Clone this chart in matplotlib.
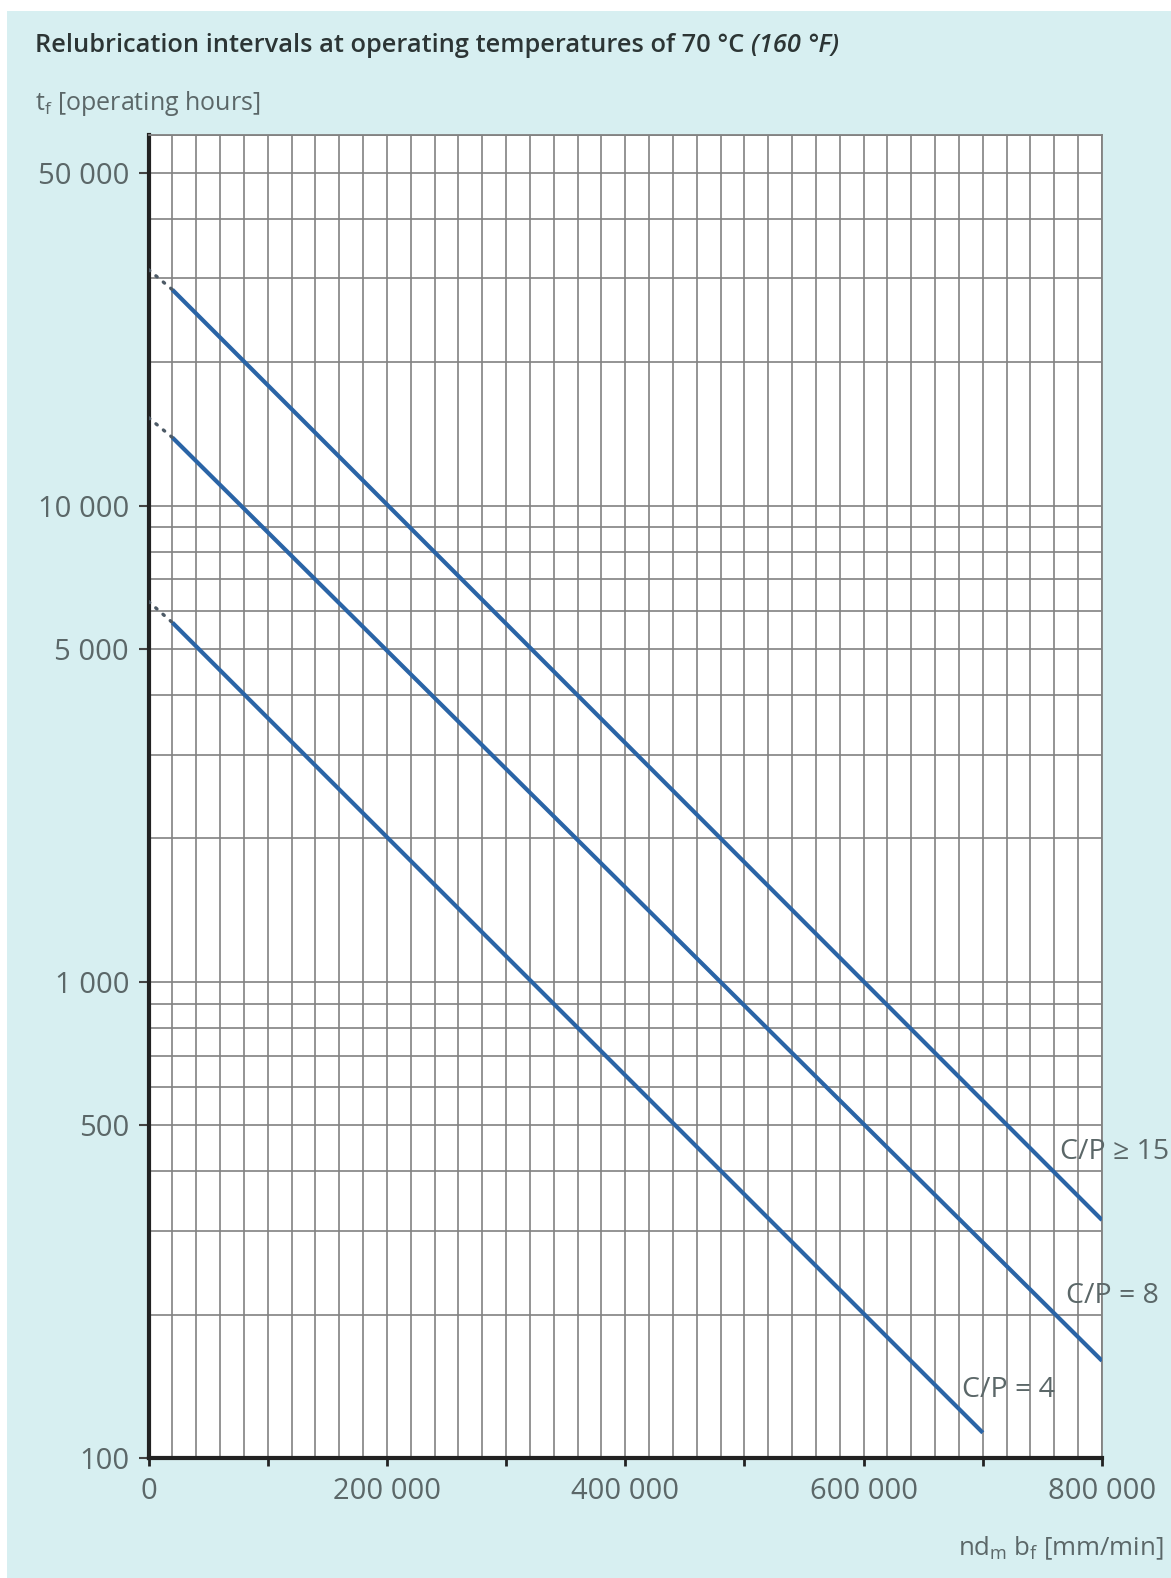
import numpy as np
import matplotlib.pyplot as plt
from matplotlib.patches import Rectangle
from matplotlib.ticker import FixedLocator, MultipleLocator, NullFormatter

# values
x_solid = {'15': [20000, 800000], '8': [20000, 800000], '4': [20000, 700000]}
t_solid = {'15': [28400, 316], '8': [13900, 160], '4': [5680, 113]}
x_dot = [0, 20000]
t_dot = {'15': [31300, 28400], '8': [15300, 13900], '4': [6290, 5680]}

curve_labels = ['C/P ≥ 15', 'C/P = 8', 'C/P = 4']
label_pos = [(1060, 1152), (1066, 1296), (962, 1390)]

y_ticks = [100, 500, 1000, 5000, 10000, 50000]
y_ticklabels = ['100', '500', '1 000', '5 000', '10 000', '50 000']
x_ticks = [0, 100000, 200000, 300000, 400000, 500000, 600000, 700000, 800000]
x_ticklabels = ['0', '', '200 000', '', '400 000', '', '600 000', '', '800 000']

W, H = 1171, 1578
bg = '#d7eff1'
blue = '#2a64a6'
txt = '#5b6768'

plt.rcParams['font.family'] = ['Open Sans', 'DejaVu Sans']

fig = plt.figure(figsize=(W / 100, H / 100), dpi=100, facecolor='white')
fig.patches.append(Rectangle((7 / W, 0), 1 - 7 / W, 1 - 11 / H,
                             transform=fig.transFigure, facecolor=bg,
                             edgecolor='none', zorder=-10))

ax = fig.add_axes([148.5 / W, (H - 1458) / H, (1102 - 148.5) / W, (1458 - 135) / H])
ax.set_facecolor('white')
ax.set_yscale('log')
ax.set_xlim(0, 800000)
ax.set_ylim(100, 60000)

ax.yaxis.set_major_locator(FixedLocator(y_ticks))
ax.set_yticklabels(y_ticklabels)
ax.yaxis.set_minor_locator(FixedLocator(
    [m * d for d in [100, 1000, 10000] for m in range(1, 10)] + [60000]))
ax.yaxis.set_minor_formatter(NullFormatter())
ax.xaxis.set_major_locator(FixedLocator(x_ticks))
ax.set_xticklabels(x_ticklabels)
ax.xaxis.set_minor_locator(MultipleLocator(20000))

ax.grid(True, which='both', color='#828282', lw=1.2, zorder=0)
ax.set_axisbelow(True)
ax.tick_params(which='minor', length=0)
ax.tick_params(axis='y', which='major', length=7, width=1.5, color='#444',
               labelsize=21, labelcolor=txt, pad=7)
ax.tick_params(axis='x', which='major', length=6, width=2, color='#222',
               labelsize=21, labelcolor=txt, pad=8)

for s in ['top', 'right']:
    ax.spines[s].set_color('#828282')
    ax.spines[s].set_linewidth(1.3)
for s in ['left', 'bottom']:
    ax.spines[s].set_color('#222')
    ax.spines[s].set_linewidth(3)

for k in ['15', '8', '4']:
    ax.plot(x_solid[k], t_solid[k], color=blue, lw=3, solid_capstyle='butt', zorder=3)
    ax.plot(x_dot, t_dot[k], color='#4d5a66', lw=2.4, ls=(0, (0.5, 2.4)),
            dash_capstyle='round', zorder=3)

for lab, (px, py) in zip(curve_labels, label_pos):
    fig.text(px / W, 1 - py / H, lab, fontsize=20.5, color=txt,
             ha='left', va='center')

fig.text(35 / W, 1 - 45 / H, 'Relubrication intervals at operating temperatures of 70 °C ',
         fontsize=18.3, fontweight='semibold', color='#2c3535', ha='left', va='center')
t1 = fig.texts[-1]
fig.canvas.draw()
bb = t1.get_window_extent()
fig.text(bb.x1 / W, 1 - 45 / H, '(160 °F)', fontsize=18.3, fontweight='semibold',
         style='italic', color='#2c3535', ha='left', va='center')

fig.text(35 / W, 1 - 104 / H, r't$_\mathregular{f}$ [operating hours]', fontsize=18,
         color=txt, ha='left', va='center')
fig.text(1164 / W, 1 - 1548 / H, r'nd$_\mathregular{m}$ b$_\mathregular{f}$ [mm/min]',
         fontsize=18.5, color=txt, ha='right', va='center')

fig.savefig('out.png', dpi=100, facecolor='white')
